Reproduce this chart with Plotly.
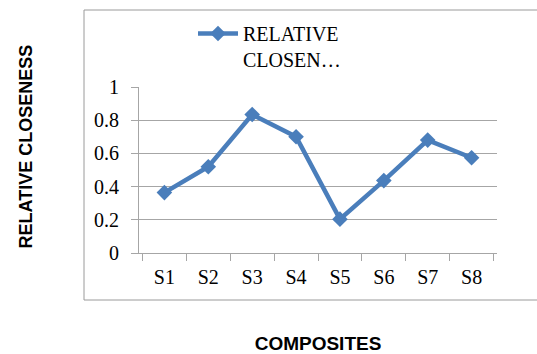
import plotly.graph_objects as go

categories = ["S1", "S2", "S3", "S4", "S5", "S6", "S7", "S8"]
relative_closeness = [0.364, 0.52, 0.834, 0.70, 0.204, 0.436, 0.68, 0.574]
y_ticks = [0, 0.2, 0.4, 0.6, 0.8, 1]
y_tick_labels = ["0", "0.2", "0.4", "0.6", "0.8", "1"]
series_name = "RELATIVE<br>CLOSEN\u2026"

W, H = 537, 354
L, R, T, B = 139, 40, 87, 101
pw, ph = W - L - R, H - T - B

def px(x):
    return (x - L) / pw

def py(y):
    return (H - B - y) / ph

blue = "#4A7EBB"
grid = "#A6A6A6"
serif = "Liberation Serif, Times New Roman, serif"
sans = "Liberation Sans, Arial, sans-serif"

fig = go.Figure()
fig.add_trace(go.Scatter(
    x=categories, y=relative_closeness, mode="lines+markers",
    name=series_name,
    line=dict(color=blue, width=4.5),
    marker=dict(symbol="diamond", size=12, color=blue),
))

fig.update_layout(
    width=W, height=H,
    margin=dict(l=L, r=R, t=T, b=B, pad=0, autoexpand=False),
    paper_bgcolor="white", plot_bgcolor="white",
    showlegend=True,
    legend=dict(
        x=px(193), y=py(14), xanchor="left", yanchor="top",
        font=dict(family=serif, size=20, color="black"),
        valign="top", bgcolor="rgba(0,0,0,0)", itemwidth=40,
    ),
    xaxis=dict(
        type="category", tickson="boundaries", ticks="outside", ticklen=7,
        tickcolor=grid, showline=True, linecolor=grid, linewidth=1,
        showgrid=False, ticklabelstandoff=6, automargin=False,
        tickfont=dict(family=serif, size=20, color="black"),
        title=dict(text="<b>COMPOSITES</b>", standoff=59,
                   font=dict(family=sans, size=19, color="black")),
    ),
    yaxis=dict(
        range=[0, 1], tickvals=y_ticks, ticktext=y_tick_labels,
        ticks="outside", ticklen=7, tickcolor=grid,
        showline=True, linecolor=grid, linewidth=1,
        showgrid=True, gridcolor=grid, gridwidth=1, zeroline=False,
        ticklabelstandoff=8, automargin=False,
        tickfont=dict(family=serif, size=20, color="black"),
    ),
    annotations=[dict(
        text="<b>RELATIVE CLOSENESS</b>", textangle=-90,
        xref="paper", yref="paper", x=px(25), y=py(146.5),
        xanchor="center", yanchor="middle", showarrow=False,
        font=dict(family=sans, size=18, color="black"),
    )],
    shapes=[dict(
        type="rect", xref="paper", yref="paper",
        x0=px(84), x1=px(545), y0=py(300), y1=py(10),
        line=dict(color="#9A9A9A", width=1), layer="below",
    )],
)

fig.write_html("out.html")
